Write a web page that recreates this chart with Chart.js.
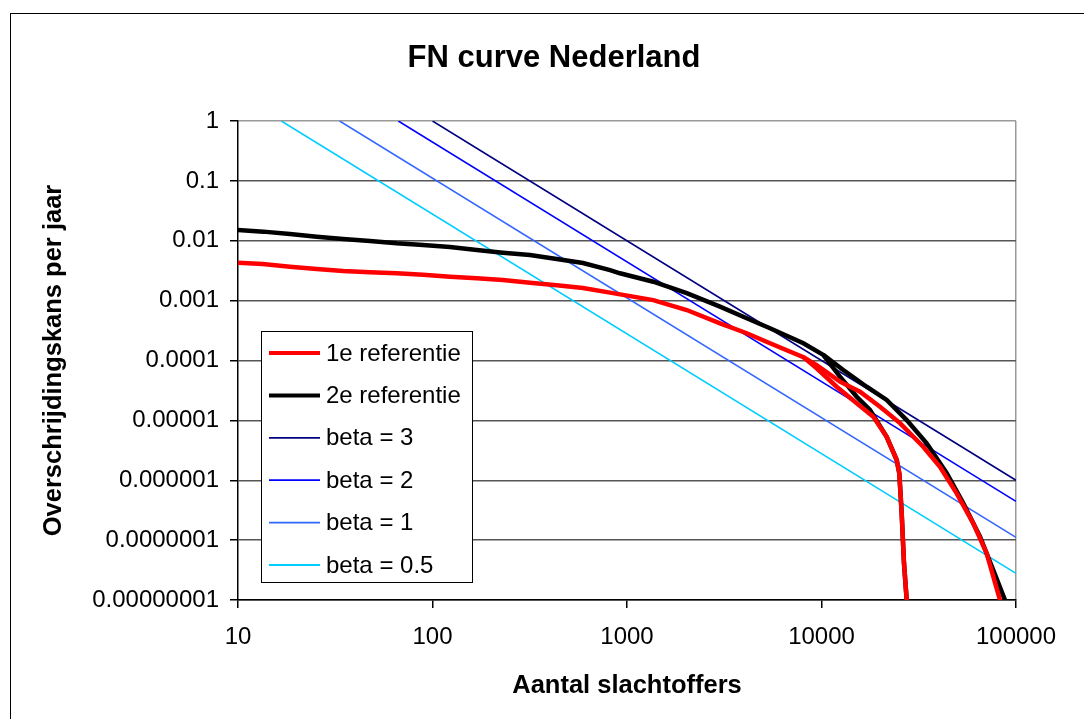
<!DOCTYPE html>
<html>
<head>
<meta charset="utf-8">
<script src="https://cdn.jsdelivr.net/npm/chart.js@4/dist/chart.umd.min.js"></script>
<style>
  html, body { margin: 0; padding: 0; background: #fff; overflow: hidden; }
  canvas { display: block; }
</style>
</head>
<body>
<canvas id="fnChart" width="1084" height="719"></canvas>
<script>
const FONT = '"Liberation Sans", Arial, sans-serif';

// ticks
const xTicks = [10, 100, 1000, 10000, 100000];
const xTickLabels = ['10', '100', '1000', '10000', '100000'];
const yTicks = [1, 0.1, 0.01, 0.001, 0.0001, 0.00001, 0.000001, 0.0000001, 0.00000001];
const yTickLabels = ['1', '0.1', '0.01', '0.001', '0.0001', '0.00001', '0.000001', '0.0000001', '0.00000001'];

// 1e referentie (rood) - hoofdtak, valt steil af rond 27000
const ref1N = [10, 13.4, 18.5, 25.4, 34.7, 47.7, 65.5, 89.4, 123, 169, 230, 317, 435, 594, 818, 1365, 2028, 3008, 4126, 5436, 8066, 9440, 11960, 15170, 18460, 21630, 24360, 25120, 25840, 26550, 27420, 27800];
const ref1F = [0.0043, 0.00409, 0.00369, 0.00337, 0.00312, 0.00297, 0.00286, 0.00271, 0.00251, 0.00236, 0.00221, 0.00199, 0.0018, 0.00163, 0.00136, 0.00102, 0.000697, 0.000418, 0.000285, 0.000194, 0.000114, 7.41e-5, 3.65e-5, 1.93e-5, 1.15e-5, 5.33e-6, 2.18e-6, 1.3e-6, 2.8e-7, 4.15e-8, 1e-8, 3e-9];
// rood - tweede tak tot ~85000
const ref1bN = [8066, 9440, 12440, 15770, 19990, 25330, 33340, 40640, 49550, 60300, 70660, 82720, 85700];
const ref1bF = [0.000114, 8.4e-5, 4.43e-5, 3.01e-5, 1.69e-5, 9e-6, 3.63e-6, 1.68e-6, 6.05e-7, 1.91e-7, 6.03e-8, 1e-8, 5.6e-9];

// 2e referentie (zwart)
const ref2N = [10, 13.5, 18.5, 25.4, 34.7, 47.7, 65.5, 89.4, 123, 169, 230, 317, 435, 594, 818, 920, 1365, 2028, 3008, 4126, 5436, 8066, 10210, 12440, 15170, 17750, 21630, 24360, 25120, 25840, 26550, 27420, 27800];
const ref2F = [0.0151, 0.0142, 0.013, 0.0117, 0.0107, 0.00991, 0.00906, 0.00849, 0.00787, 0.00701, 0.00632, 0.00578, 0.00496, 0.00425, 0.00324, 0.00286, 0.00207, 0.00133, 0.000792, 0.000507, 0.000345, 0.000194, 0.000124, 5.36e-5, 2.48e-5, 1.49e-5, 5.33e-6, 2.18e-6, 1.3e-6, 2.8e-7, 4.15e-8, 1e-8, 3e-9];
const ref2bN = [10210, 12940, 17070, 21630, 27420, 34750, 44040, 53600, 65300, 76400, 87700, 91000];
const ref2bF = [0.000124, 6.94e-5, 3.65e-5, 2.19e-5, 1.01e-5, 4.14e-6, 1.31e-6, 4.12e-7, 1.14e-7, 3.17e-8, 1e-8, 5.6e-9];

// normlijnen (begin- en eindpunt)
const beta3N = [100, 100000],  beta3F = [1, 1e-6];
const beta2N = [66.7, 100000], beta2F = [1, 4.44e-7];
const beta1N = [33.3, 100000], beta1F = [1, 1.11e-7];
const beta05N = [16.7, 100000], beta05F = [1, 2.78e-8];

const pts = (xs, ys) => xs.map((x, i) => ({ x: x, y: ys[i] }));
const ds = (label, xs, ys, color, width, legend) => ({
  label: label, data: pts(xs, ys), borderColor: color, backgroundColor: color,
  borderWidth: width, pointRadius: 0, tension: 0, clip: 0, inLegend: legend
});

// eerste dataset wordt bovenop getekend
const datasets = [
  ds('1e referentie', ref1N, ref1F, '#ff0000', 4.5, true),
  ds('1e referentie', ref1bN, ref1bF, '#ff0000', 4.5, false),
  ds('2e referentie', ref2N, ref2F, '#000000', 4.5, true),
  ds('2e referentie', ref2bN, ref2bF, '#000000', 4.5, false),
  ds('beta = 3', beta3N, beta3F, '#000080', 1.6, true),
  ds('beta = 2', beta2N, beta2F, '#0000ff', 1.6, true),
  ds('beta = 1', beta1N, beta1F, '#3366ff', 1.6, true),
  ds('beta = 0.5', beta05N, beta05F, '#00ccff', 1.6, true)
];
const legendOrder = [0, 2, 4, 5, 6, 7];

const extras = {
  id: 'extras',
  beforeDraw(chart) {
    const ctx = chart.ctx;
    ctx.save();
    ctx.fillStyle = '#fff';
    ctx.fillRect(0, 0, chart.width, chart.height);
    ctx.strokeStyle = '#000';
    ctx.lineWidth = 1;
    ctx.strokeRect(10.5, 13.5, 1200, 800);
    ctx.restore();
  },
  afterDraw(chart) {
    const ctx = chart.ctx;
    ctx.save();
    // titel
    ctx.fillStyle = '#000';
    ctx.font = 'bold 31px ' + FONT;
    ctx.textAlign = 'center';
    ctx.textBaseline = 'alphabetic';
    ctx.fillText('FN curve Nederland', 554, 67);
    // legenda
    ctx.fillStyle = '#fff';
    ctx.fillRect(261.5, 331.5, 211, 251);
    ctx.strokeStyle = '#000';
    ctx.lineWidth = 1;
    ctx.strokeRect(261.5, 331.5, 211, 251);
    ctx.font = '24px ' + FONT;
    ctx.textAlign = 'left';
    ctx.textBaseline = 'middle';
    legendOrder.forEach((di, i) => {
      const d = chart.data.datasets[di];
      const y = 353 + i * 42.4;
      ctx.strokeStyle = d.borderColor;
      ctx.lineWidth = d.borderWidth > 3 ? 4 : 1.8;
      ctx.beginPath();
      ctx.moveTo(269, y);
      ctx.lineTo(320, y);
      ctx.stroke();
      ctx.fillStyle = '#000';
      ctx.fillText(d.label, 326, y + 1);
    });
    ctx.restore();
  }
};

new Chart(document.getElementById('fnChart').getContext('2d'), {
  type: 'line',
  data: { datasets: datasets },
  options: {
    responsive: false,
    animation: false,
    devicePixelRatio: 1,
    events: [],
    layout: { padding: { top: 121, right: 68, bottom: 0, left: 0 } },
    plugins: { legend: { display: false }, title: { display: false }, tooltip: { enabled: false } },
    scales: {
      x: {
        type: 'logarithmic',
        min: 10,
        max: 100000,
        afterBuildTicks: s => { s.ticks = xTicks.map(v => ({ value: v })); },
        afterFit: s => { s.height = 119; },
        ticks: {
          callback: (v, i) => xTickLabels[i],
          font: { size: 24, family: FONT },
          color: '#000',
          padding: 15,
          autoSkip: false,
          maxRotation: 0,
          minRotation: 0
        },
        grid: {
          color: c => (c.tick && c.tick.value === 100000 ? '#9a9a9a' : 'rgba(0,0,0,0)'),
          lineWidth: 1.5,
          tickColor: '#000',
          tickLength: 8
        },
        border: { color: '#000', width: 1.5 },
        title: {
          display: true,
          text: 'Aantal slachtoffers',
          color: '#000',
          font: { size: 25.5, weight: 'bold', family: FONT },
          padding: { top: 0, bottom: 17.7 }
        }
      },
      y: {
        type: 'logarithmic',
        min: 0.00000001,
        max: 1,
        afterBuildTicks: s => { s.ticks = yTicks.map(v => ({ value: v })); },
        afterFit: s => { s.width = 238; },
        ticks: {
          callback: (v, i) => yTickLabels[i],
          font: { size: 24, family: FONT },
          color: '#000',
          padding: 11,
          autoSkip: false
        },
        grid: {
          color: c => (c.tick && c.tick.value === 1 ? '#9a9a9a' : '#555555'),
          lineWidth: 1.5,
          tickColor: '#000',
          tickLength: 8
        },
        border: { color: '#000', width: 1.5 },
        title: {
          display: true,
          text: 'Overschrijdingskans per jaar',
          color: '#000',
          font: { size: 25.5, weight: 'bold', family: FONT },
          padding: { top: 39, bottom: 0 }
        }
      }
    }
  },
  plugins: [extras]
});
</script>
</body>
</html>
